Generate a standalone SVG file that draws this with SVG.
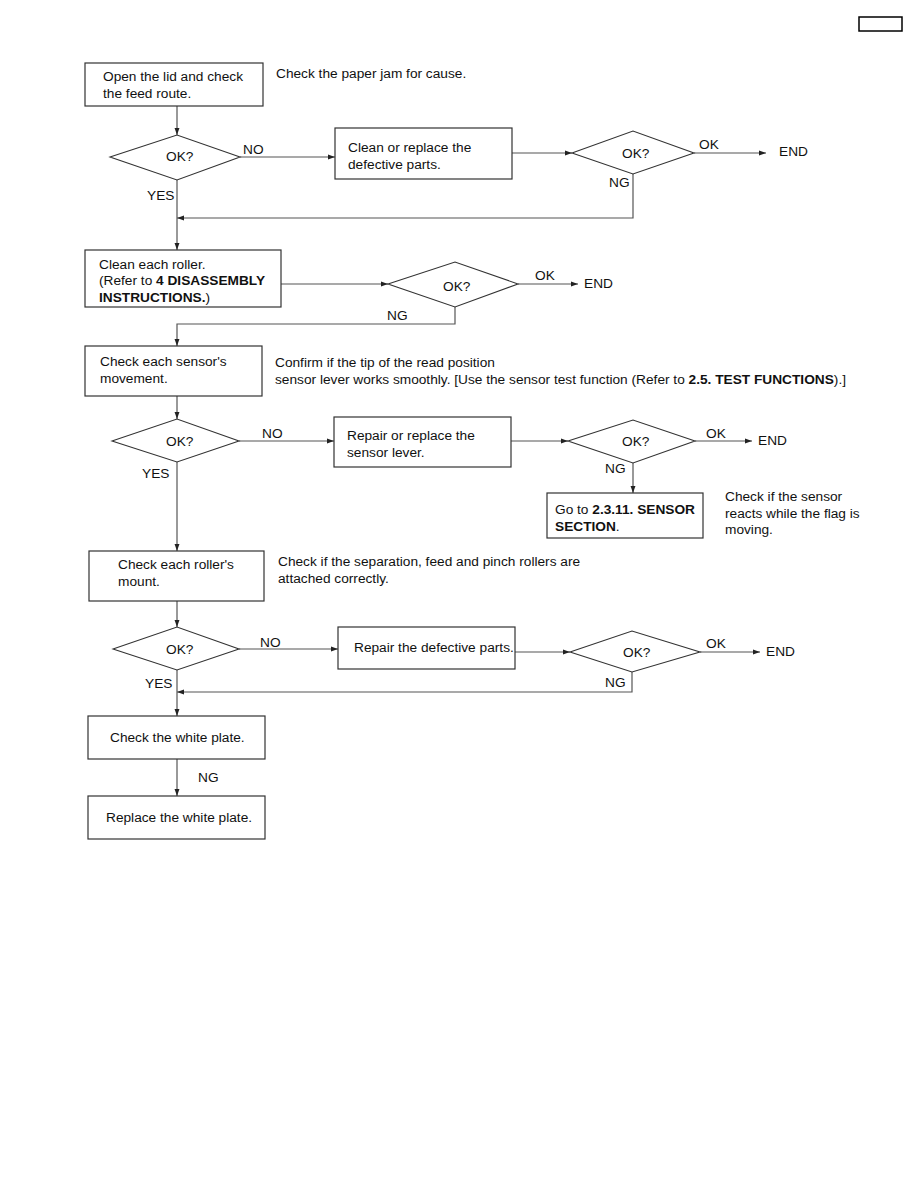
<svg xmlns="http://www.w3.org/2000/svg" width="918" height="1188" viewBox="0 0 918 1188">
<style>
.box{fill:#fff;stroke:#333;stroke-width:1.2}
.dia{fill:#fff;stroke:#333;stroke-width:1.1}
.ln{fill:none;stroke:#555;stroke-width:1.2}
text{font-family:"Liberation Sans",Arial,sans-serif;font-size:13.7px;fill:#111}
.b{font-weight:bold}
</style>
<defs>
<marker id="ah" viewBox="0 0 10 10" refX="10" refY="5" markerWidth="7" markerHeight="7" orient="auto" markerUnits="userSpaceOnUse">
<path d="M0,1.5 L10,5 L0,8.5 z" fill="#222"/>
</marker>
</defs>
<rect x="859" y="17" width="43" height="14" fill="none" stroke="#000" stroke-width="1.5"/>
<g id="connectors">
<line class="ln" x1="177" y1="106" x2="177" y2="135" marker-end="url(#ah)"/>
<line class="ln" x1="240" y1="157" x2="335" y2="157" marker-end="url(#ah)"/>
<line class="ln" x1="512" y1="153" x2="572" y2="153" marker-end="url(#ah)"/>
<line class="ln" x1="694" y1="153" x2="766" y2="153" marker-end="url(#ah)"/>
<polyline class="ln" points="633,174 633,218 177,218" marker-end="url(#ah)"/>
<line class="ln" x1="177" y1="180" x2="177" y2="250" marker-end="url(#ah)"/>
<line class="ln" x1="281" y1="284" x2="388" y2="284" marker-end="url(#ah)"/>
<line class="ln" x1="518" y1="284" x2="578" y2="284" marker-end="url(#ah)"/>
<polyline class="ln" points="455,307 455,324 177,324 177,346" marker-end="url(#ah)"/>
<line class="ln" x1="177" y1="396" x2="177" y2="419" marker-end="url(#ah)"/>
<line class="ln" x1="239" y1="441" x2="334" y2="441" marker-end="url(#ah)"/>
<line class="ln" x1="511" y1="441" x2="568" y2="441" marker-end="url(#ah)"/>
<line class="ln" x1="695" y1="441" x2="752" y2="441" marker-end="url(#ah)"/>
<line class="ln" x1="633" y1="463" x2="633" y2="493" marker-end="url(#ah)"/>
<line class="ln" x1="177" y1="462" x2="177" y2="551" marker-end="url(#ah)"/>
<line class="ln" x1="177" y1="601" x2="177" y2="627" marker-end="url(#ah)"/>
<line class="ln" x1="239" y1="649" x2="338" y2="649" marker-end="url(#ah)"/>
<line class="ln" x1="515" y1="652" x2="570" y2="652" marker-end="url(#ah)"/>
<line class="ln" x1="700" y1="652" x2="760" y2="652" marker-end="url(#ah)"/>
<polyline class="ln" points="632,672 632,692 177,692" marker-end="url(#ah)"/>
<line class="ln" x1="177" y1="670" x2="177" y2="716" marker-end="url(#ah)"/>
<line class="ln" x1="177" y1="759" x2="177" y2="796" marker-end="url(#ah)"/>
<text x="243" y="154">NO</text>
<text x="147" y="200">YES</text>
<text x="699" y="149">OK</text>
<text x="779" y="156">END</text>
<text x="609" y="187">NG</text>
<text x="535" y="280">OK</text>
<text x="584" y="288">END</text>
<text x="387" y="320">NG</text>
<text x="262" y="438">NO</text>
<text x="142" y="478">YES</text>
<text x="706" y="438">OK</text>
<text x="758" y="445">END</text>
<text x="605" y="473">NG</text>
<text x="260" y="647">NO</text>
<text x="145" y="688">YES</text>
<text x="706" y="648">OK</text>
<text x="766" y="656">END</text>
<text x="605" y="687">NG</text>
<text x="198" y="782">NG</text>
</g>
<g id="n1"><rect class="box" x="85" y="63" width="178" height="43"/><text x="103" y="81">Open the lid and check</text><text x="103" y="98">the feed route.</text></g>
<text x="276" y="78">Check the paper jam for cause.</text>
<g id="d1"><polygon class="dia" points="110,157 177,135 240,157 177,180"/><text x="166" y="161">OK?</text></g>
<g id="n2"><rect class="box" x="335" y="128" width="177" height="51"/><text x="348" y="152">Clean or replace the</text><text x="348" y="169">defective parts.</text></g>
<g id="d2"><polygon class="dia" points="572,153 633,131 694,153 633,174"/><text x="622" y="158">OK?</text></g>
<g id="n3"><rect class="box" x="85" y="250" width="196" height="57"/><text x="99" y="269">Clean each roller.</text><text x="99" y="285">(Refer to <tspan class="b">4 DISASSEMBLY</tspan></text><text x="99" y="302"><tspan class="b">INSTRUCTIONS.</tspan>)</text></g>
<g id="d3"><polygon class="dia" points="388,284 455,262 518,284 455,307"/><text x="443" y="291">OK?</text></g>
<g id="n4"><rect class="box" x="85" y="346" width="177" height="50"/><text x="100" y="366">Check each sensor's</text><text x="100" y="383">movement.</text></g>
<text x="275" y="367">Confirm if the tip of the read position</text>
<text x="275" y="384">sensor lever works smoothly. [Use the sensor test function (Refer to <tspan class="b">2.5. TEST FUNCTIONS</tspan>).]</text>
<g id="d4"><polygon class="dia" points="112,441 177,419 239,441 177,462"/><text x="166" y="446">OK?</text></g>
<g id="n5"><rect class="box" x="334" y="417" width="177" height="50"/><text x="347" y="440">Repair or replace the</text><text x="347" y="457">sensor lever.</text></g>
<g id="d5"><polygon class="dia" points="568,441 633,420 695,441 633,463"/><text x="622" y="446">OK?</text></g>
<g id="n6"><rect class="box" x="547" y="493" width="156" height="45"/><text x="555" y="514">Go to <tspan class="b">2.3.11. SENSOR</tspan></text><text x="555" y="531"><tspan class="b">SECTION</tspan>.</text></g>
<text x="725" y="501">Check if the sensor</text>
<text x="725" y="518">reacts while the flag is</text>
<text x="725" y="534">moving.</text>
<g id="n7"><rect class="box" x="89" y="551" width="175" height="50"/><text x="118" y="569">Check each roller's</text><text x="118" y="586">mount.</text></g>
<text x="278" y="566">Check if the separation, feed and pinch rollers are</text>
<text x="278" y="583">attached correctly.</text>
<g id="d6"><polygon class="dia" points="113,649 177,627 239,649 177,670"/><text x="166" y="654">OK?</text></g>
<g id="n8"><rect class="box" x="338" y="627" width="177" height="42"/><text x="354" y="652">Repair the defective parts.</text></g>
<g id="d7"><polygon class="dia" points="570,652 632,631 700,652 632,672"/><text x="623" y="657">OK?</text></g>
<g id="n9"><rect class="box" x="88" y="716" width="177" height="43"/><text x="110" y="742">Check the white plate.</text></g>
<g id="n10"><rect class="box" x="88" y="796" width="177" height="43"/><text x="106" y="822">Replace the white plate.</text></g>
</svg>
